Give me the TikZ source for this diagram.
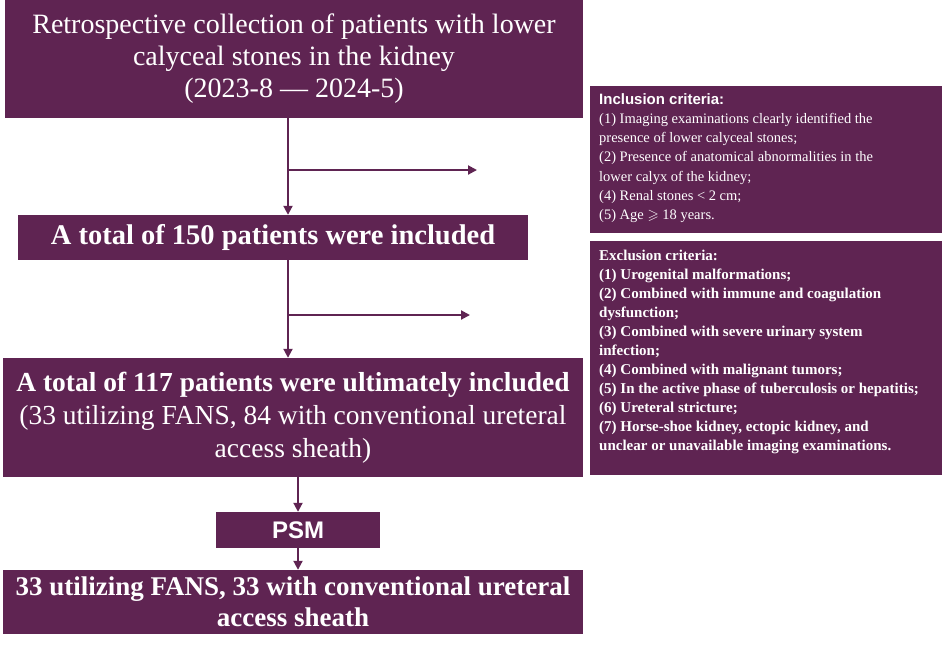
\documentclass[tikz,border=0pt]{standalone}
\usepackage{fontspec}
\setmainfont{Liberation Serif}
\setsansfont{Liberation Sans}
\usepackage{amssymb}
\usetikzlibrary{arrows.meta,positioning}
\definecolor{plum}{HTML}{5F2452}
\tikzset{
  box/.style={fill=plum, text=white, inner sep=2pt, align=center},
  side/.style={fill=plum, text=white, inner sep=0pt, align=left, anchor=north west, font=\fontsize{14.5}{19.3}\selectfont},
  plate/.style={fill=plum},
  flow/.style={plum, line width=2pt, -{Triangle[length=9pt,width=9pt]}}
}
\begin{document}
\begin{tikzpicture}[x=1pt,y=-1pt]
    \useasboundingbox (0,0) rectangle (944,649);
    % main column
    \node[box, minimum width=578pt, minimum height=118pt, font=\fontsize{28}{32}\selectfont]
        (collect) at (294,59) {Retrospective collection of patients with lower\\calyceal stones in the kidney\\(2023-8 --- 2024-5)};
    \node[box, minimum width=510pt, minimum height=45pt, font=\bfseries\fontsize{28.5}{30}\selectfont]
        (total) at (273,237.5) {A total of 150 patients were included};
    \node[box, minimum width=580pt, minimum height=119pt, font=\fontsize{27.5}{33}\selectfont]
        (final) at (293,417.5) {\textbf{A total of 117 patients were ultimately included}\\(33 utilizing FANS, 84 with conventional ureteral\\access sheath)};
    \node[box, minimum width=164pt, minimum height=36pt, font=\sffamily\bfseries\fontsize{24}{26}\selectfont]
        (psm) at (298,530) {PSM};
    \node[box, minimum width=580pt, minimum height=64pt, font=\bfseries\fontsize{27}{31}\selectfont]
        (match) at (293,602) {33 utilizing FANS, 33 with conventional ureteral\\access sheath};
    % criteria
    \fill[plate] (590,86) rectangle (942,233);
    \fill[plate] (590,241) rectangle (942,475);
    \node[side] (incl) at (599,93)
        {{\sffamily\bfseries\fontsize{15}{19.3}\selectfont Inclusion criteria:}\\
         (1) Imaging examinations clearly identified the\\
         presence of lower calyceal stones;\\
         (2) Presence of anatomical abnormalities in the\\
         lower calyx of the kidney;\\
         (4) Renal stones < 2 cm;\\
         (5) Age $\geqslant$ 18 years.};
    \node[side, font=\bfseries\fontsize{15}{19}\selectfont] (excl) at (599,250)
        {Exclusion criteria:\\
         (1) Urogenital malformations;\\
         (2) Combined with immune and coagulation\\
         dysfunction;\\
         (3) Combined with severe urinary system\\
         infection;\\
         (4) Combined with malignant tumors;\\
         (5) In the active phase of tuberculosis or hepatitis;\\
         (6) Ureteral stricture;\\
         (7) Horse-shoe kidney, ectopic kidney, and\\
         unclear or unavailable imaging examinations.};
    % arrows
    \coordinate (c1) at (288,170);
    \coordinate (e1) at (477,170);
    \coordinate (c2) at (288,315);
    \coordinate (e2) at (470,315);
    \draw[flow] (collect.south -| c1) -- (total.north -| c1);
    \draw[flow] (c1) -- (e1);
    \draw[flow] (total.south -| c2) -- (final.north -| c2);
    \draw[flow] (c2) -- (e2);
    \draw[flow] (final.south -| psm) -- (psm.north);
    \draw[flow] (psm.south) -- (match.north -| psm);
\end{tikzpicture}
\end{document}
